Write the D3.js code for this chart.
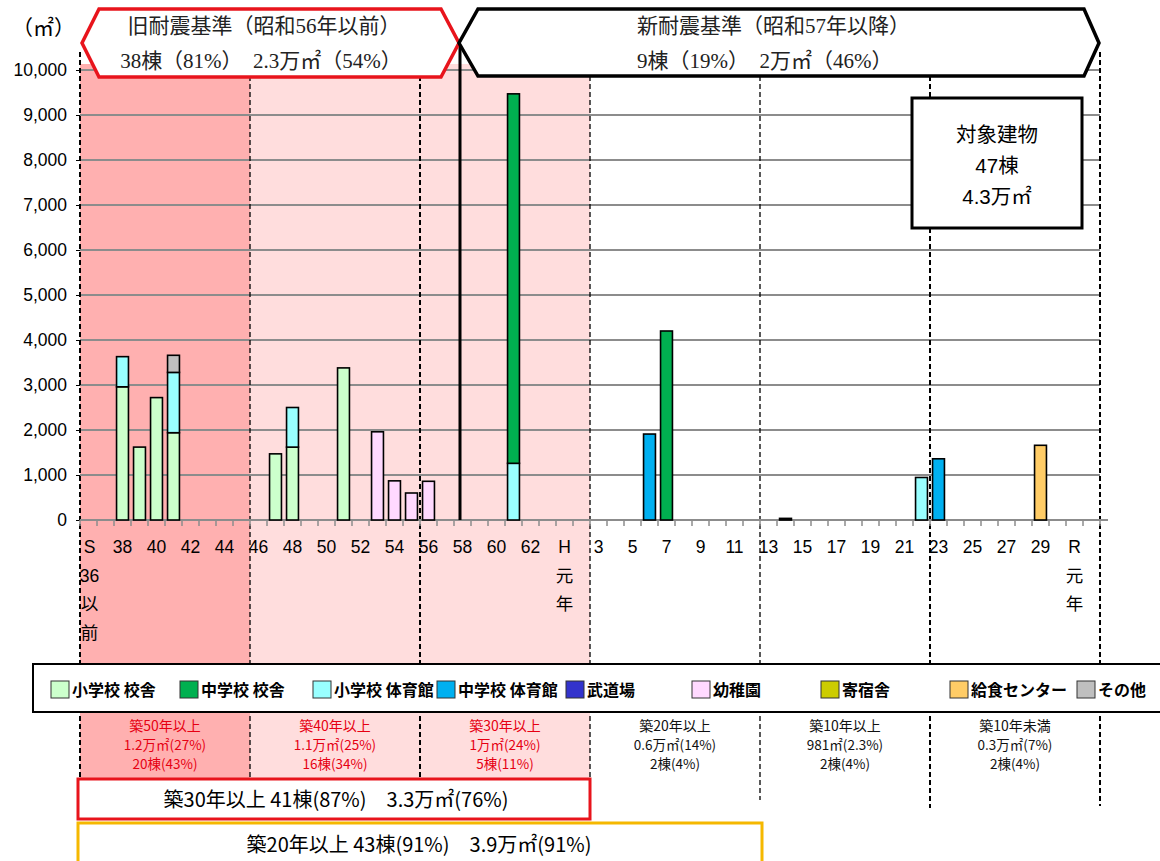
<!DOCTYPE html>
<html>
<head>
<meta charset="utf-8">
<script src="https://cdn.jsdelivr.net/npm/d3@7/dist/d3.min.js"></script>
<style>
body { margin: 0; padding: 0; background: #fff; }
svg { display: block; }
</style>
</head>
<body>
<script>
// categories (construction year), S36以前 .. R2
var categories = ["S36以前","S37","S38","S39","S40","S41","S42","S43","S44","S45",
  "S46","S47","S48","S49","S50","S51","S52","S53","S54","S55",
  "S56","S57","S58","S59","S60","S61","S62","S63","H元年","H2",
  "H3","H4","H5","H6","H7","H8","H9","H10","H11","H12",
  "H13","H14","H15","H16","H17","H18","H19","H20","H21","H22",
  "H23","H24","H25","H26","H27","H28","H29","H30","R元年","R2"];

// axis labels, "|" = line break
var tickLabels = ["S|36|以|前","","38","","40","","42","","44","",
  "46","","48","","50","","52","","54","",
  "56","","58","","60","","62","","H|元|年","",
  "3","","5","","7","","9","","11","",
  "13","","15","","17","","19","","21","",
  "23","","25","","27","","29","","R|元|年",""];

var yTicks = [0,1000,2000,3000,4000,5000,6000,7000,8000,9000,10000];

// series (legend order)
var seriesNames  = ["小学校 校舎","中学校 校舎","小学校 体育館","中学校 体育館","武道場","幼稚園","寄宿舎","給食センター","その他"];
var seriesColors = ["#ccffcc","#00b050","#99ffff","#00b0f0","#3333cc","#ffd9ff","#cccc00","#ffcc66","#bfbfbf"];

// values in m2 : [category, value]
var shoKosha   = [["S38",2960],["S39",1620],["S40",2720],["S41",1940],["S47",1470],["S48",1620],["S51",3380]];
var chuKosha   = [["S61",8210],["H7",4200]];
var shoGym     = [["S38",670],["S41",1340],["S48",880],["S61",1260],["H22",945]];
var chuGym     = [["H6",1910],["H23",1360]];
var budojo     = [];
var yochien    = [["S53",1960],["S54",870],["S55",600],["S56",860]];
var kishukusha = [];
var kyushoku   = [["H29",1660]];
var sonota     = [["S41",380],["H14",36]];

var seriesData = [shoKosha, chuKosha, shoGym, chuGym, budojo, yochien, kishukusha, kyushoku, sonota];
var stackOrder = [0,2,1,3,4,5,6,7,8];   // bottom -> top

// texts
var oldTitle = ["旧耐震基準（昭和56年以前）", "38棟（81%）　2.3万㎡（54%）"];
var newTitle = ["新耐震基準（昭和57年以降）", "9棟（19%）　2万㎡（46%）"];
var totalBox = ["対象建物", "47棟", "4.3万㎡"];
var ageLabel = ["築50年以上","築40年以上","築30年以上","築20年以上","築10年以上","築10年未満"];
var ageArea  = ["1.2万㎡(27%)","1.1万㎡(25%)","1万㎡(24%)","0.6万㎡(14%)","981㎡(2.3%)","0.3万㎡(7%)"];
var ageCount = ["20棟(43%)","16棟(34%)","5棟(11%)","2棟(4%)","2棟(4%)","2棟(4%)"];
var sum30 = "築30年以上 41棟(87%)　3.3万㎡(76%)";
var sum20 = "築20年以上 43棟(91%)　3.9万㎡(91%)";

var W = 1160, H = 861;
var sans = "'Liberation Sans', Arial, 'Noto Sans CJK JP', sans-serif";
var serif = "'Liberation Serif', 'DejaVu Serif', 'Noto Sans CJK JP', serif";
var jp = "'Noto Sans CJK JP', sans-serif";

var svg = d3.select("body").append("svg").attr("width", W).attr("height", H);

var x = d3.scaleBand().domain(categories).range([80, 1100]).paddingInner(0.3).paddingOuter(0.15);
var y = d3.scaleLinear().domain([0, 10000]).range([520, 70]);
var step = x.step();
function edge(i) { return 80 + i * step; }   // category boundary

// table for stacking
var table = categories.map(function (c) {
  var row = { cat: c };
  seriesData.forEach(function (s, k) {
    var hit = s.find(function (d) { return d[0] === c; });
    row[k] = hit ? hit[1] : 0;
  });
  return row;
});
var stacked = d3.stack().keys(stackOrder)(table);

// pink background bands
svg.append("rect").attr("x", edge(0)).attr("y", 64).attr("width", edge(10) - edge(0)).attr("height", 714).attr("fill", "#ffb0b0");
svg.append("rect").attr("x", edge(10)).attr("y", 64).attr("width", edge(30) - edge(10)).attr("height", 714).attr("fill", "#ffdddd");

// grid
svg.append("g").selectAll("line").data(yTicks.slice(1)).join("line")
  .attr("x1", 80).attr("x2", 1100)
  .attr("y1", function (d) { return y(d); }).attr("y2", function (d) { return y(d); })
  .attr("stroke", "#8c8c8c").attr("stroke-width", 2);

// dashed dividers
var divIdx = [0, 10, 20, 30, 40, 50, 60];
var divBottom = [778, 778, 778, 778, 800, 808, 806];
var divWidth = [2, 1.3, 2, 1.3, 1.3, 2, 2];
svg.append("g").selectAll("line").data(divIdx).join("line")
  .attr("x1", function (d) { return edge(d); }).attr("x2", function (d) { return edge(d); })
  .attr("y1", 52).attr("y2", function (d, i) { return divBottom[i]; })
  .attr("stroke", "#000").attr("stroke-width", function (d, i) { return divWidth[i]; })
  .attr("stroke-dasharray", "5,3");

// y axis
var yAxis = svg.append("g").attr("transform", "translate(80,0)")
  .call(d3.axisLeft(y).tickValues(yTicks).tickFormat(d3.format(",")).tickSize(4));
yAxis.select(".domain").remove();
yAxis.selectAll("line").attr("stroke", "#000");
yAxis.selectAll("text").attr("font-family", sans).attr("font-size", 17.5).attr("fill", "#000").attr("dx", -6);

// x axis line + boundary ticks
svg.append("line").attr("x1", 80).attr("x2", 1108).attr("y1", y(0)).attr("y2", y(0))
  .attr("stroke", "#8c8c8c").attr("stroke-width", 2);
svg.append("g").selectAll("line").data(d3.range(categories.length + 1)).join("line")
  .attr("x1", function (i) { return edge(i); }).attr("x2", function (i) { return edge(i); })
  .attr("y1", y(0)).attr("y2", y(0) + 6).attr("stroke", "#8c8c8c").attr("stroke-width", 1.5);

// x labels
var xl = svg.append("g").attr("font-family", sans).attr("font-size", 17.5).attr("fill", "#000");
categories.forEach(function (c, i) {
  if (!tickLabels[i]) return;
  var t = xl.append("text").attr("text-anchor", "middle");
  tickLabels[i].split("|").forEach(function (s, j) {
    t.append("tspan").attr("x", x(c) + x.bandwidth() / 2 + (i === 0 ? 1 : 0)).attr("y", 553 + j * 28.5).text(s);
  });
});

// bars
svg.append("g").selectAll("g").data(stacked).join("g")
  .attr("fill", function (s) { return seriesColors[s.key]; })
  .selectAll("rect").data(function (s) { return s.filter(function (d) { return d[1] - d[0] > 0; }); }).join("rect")
  .attr("x", function (d) { return x(d.data.cat); })
  .attr("width", x.bandwidth())
  .attr("y", function (d) { return y(d[1]); })
  .attr("height", function (d) { return y(d[0]) - y(d[1]); })
  .attr("stroke", "#000").attr("stroke-width", 1.6);

// old / new divider
var divX = edge(22) + 6;
svg.append("line").attr("x1", divX).attr("x2", divX).attr("y1", 43).attr("y2", y(0))
  .attr("stroke", "#000").attr("stroke-width", 3);

// header hexagons
var hexLine = d3.line();
svg.append("path").attr("d", hexLine([[99,9],[441,9],[459,43],[441,77],[99,77],[82,43]]) + "Z")
  .attr("fill", "#fff").attr("stroke", "#e8141c").attr("stroke-width", 3.5).attr("stroke-linejoin", "miter");
svg.append("path").attr("d", hexLine([[478,9],[1084,9],[1099,43],[1084,76],[478,76],[459,43]]) + "Z")
  .attr("fill", "#fff").attr("stroke", "#000").attr("stroke-width", 3.5);

svg.append("text").attr("x", 264).attr("y", 33).attr("text-anchor", "middle")
  .attr("font-family", serif).attr("font-size", 21).attr("fill", "#222").text(oldTitle[0]);
svg.append("text").attr("x", 261).attr("y", 68).attr("text-anchor", "middle")
  .attr("font-family", serif).attr("font-size", 21).attr("fill", "#222").text(oldTitle[1]);
svg.append("text").attr("x", 637).attr("y", 33)
  .attr("font-family", serif).attr("font-size", 21).attr("fill", "#222").text(newTitle[0]);
svg.append("text").attr("x", 637).attr("y", 68)
  .attr("font-family", serif).attr("font-size", 21).attr("fill", "#222").text(newTitle[1]);

svg.append("text").attr("x", 12).attr("y", 35).attr("font-family", sans).attr("font-size", 21).text("（㎡）");

// total box
svg.append("rect").attr("x", 912).attr("y", 98).attr("width", 170).attr("height", 130)
  .attr("fill", "#fff").attr("stroke", "#000").attr("stroke-width", 3);
totalBox.forEach(function (t, i) {
  svg.append("text").attr("x", 997).attr("y", 142 + i * 31).attr("text-anchor", "middle")
    .attr("font-family", sans).attr("font-size", 20.5).text(t);
});

// legend
var legendX = [51, 180, 313, 437, 566, 692, 821, 950, 1077];
svg.append("rect").attr("x", 33).attr("y", 664).attr("width", 1140).attr("height", 48)
  .attr("fill", "#fff").attr("stroke", "#000").attr("stroke-width", 2);
var lg = svg.append("g").selectAll("g").data(seriesNames).join("g")
  .attr("transform", function (d, i) { return "translate(" + legendX[i] + ",681)"; });
lg.append("rect").attr("width", 18).attr("height", 17)
  .attr("fill", function (d, i) { return seriesColors[i]; }).attr("stroke", "#333").attr("stroke-width", 1);
lg.append("text").attr("x", 21).attr("y", 15).attr("font-family", jp)
  .attr("font-weight", "bold").attr("font-size", 16).text(function (d) { return d; });

// age band notes
ageLabel.forEach(function (t, i) {
  var cx = (edge(i * 10) + edge(i * 10 + 10)) / 2;
  var col = i < 3 ? "#e60012" : "#111";
  [t, ageArea[i], ageCount[i]].forEach(function (s, j) {
    svg.append("text").attr("x", cx).attr("y", 731 + j * 19).attr("text-anchor", "middle")
      .attr("font-family", jp).attr("font-size", j === 0 ? 14 : 13.5)
      .attr("fill", col).text(s);
  });
});

// summary boxes
svg.append("rect").attr("x", 78).attr("y", 779).attr("width", 512).attr("height", 40)
  .attr("fill", "#fff").attr("stroke", "#e8141c").attr("stroke-width", 3);
svg.append("text").attr("x", 336).attr("y", 807).attr("text-anchor", "middle")
  .attr("font-family", jp).attr("font-size", 20).text(sum30);
svg.append("rect").attr("x", 78).attr("y", 823).attr("width", 684).attr("height", 60)
  .attr("fill", "#fff").attr("stroke", "#f5b800").attr("stroke-width", 3);
svg.append("text").attr("x", 419).attr("y", 852).attr("text-anchor", "middle")
  .attr("font-family", jp).attr("font-size", 20).text(sum20);
</script>
</body>
</html>
